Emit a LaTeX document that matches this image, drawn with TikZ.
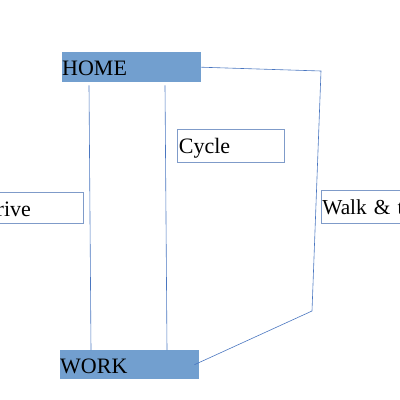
\documentclass[tikz,border=0pt]{standalone}
\usepackage{fontspec}
\setmainfont{Liberation Serif}
\usetikzlibrary{calc}
\definecolor{boxfill}{HTML}{729FCF}
\definecolor{edgeblue}{HTML}{4A76C0}
\definecolor{frameblue}{HTML}{7F9BC9}
\begin{document}
\begin{tikzpicture}[x=1pt,y=-1pt,
  every node/.style={font=\fontsize{22}{26}\selectfont, inner sep=0pt, anchor=north west, align=left},
  place/.style={fill=boxfill, draw=none},
  label box/.style={draw=frameblue, line width=0.7pt, fill=white},
  conn/.style={draw=edgeblue, line width=0.6pt}]
\useasboundingbox (0,0) rectangle (400,400);
\node[place, minimum width=139pt, minimum height=30pt, text width=139pt, text height=23pt, text depth=7pt] (home) at (62,52) {HOME};
\node[place, minimum width=139pt, minimum height=29pt, text width=139pt, text height=23pt, text depth=6pt] (work) at (60,350) {WORK};
\node[label box, minimum width=107pt, minimum height=33pt, text width=106pt, text height=24pt, text depth=9pt] (cycle) at (177,129) {\hspace{1pt}Cycle};
\node[label box, minimum width=104pt, minimum height=31pt, text width=103pt, text height=24pt, text depth=7pt] (drive) at (-21,192) {\hspace{1pt}Drive};
\node[label box, minimum width=130pt, minimum height=33pt, text width=129pt, text height=24pt, text depth=9pt, font=\fontsize{21.3}{26}\selectfont] (walk) at (321,190) {\hspace{0.5pt}Walk \& tube};
\coordinate (c1) at (321,71);
\coordinate (c2) at (312,311);
\draw[conn] ($(home.south west)+(27,3)$) -- ($(work.north west)+(31,0)$);
\draw[conn] ($(home.south west)+(103,3)$) -- ($(work.north west)+(107,0)$);
\draw[conn] (home.east) -- (c1) -- (c2) -- ($(work.east)+(-5,0)$);
\end{tikzpicture}
\end{document}
